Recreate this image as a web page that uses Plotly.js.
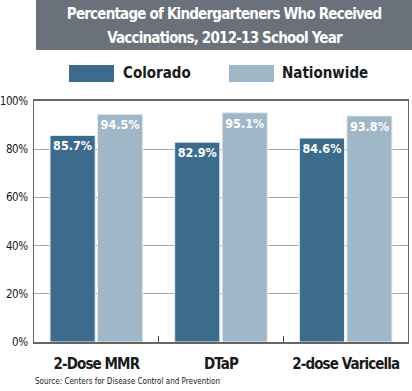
<!DOCTYPE html>
<html>
<head>
<meta charset="utf-8">
<script src="https://cdn.plot.ly/plotly-3.0.1.min.js"></script>
<style>
html,body{margin:0;padding:0;background:#fff;}
#chart{width:412px;height:391px;}
.main-svg text{font-stretch:condensed !important;}
.annotation.title-ann text{letter-spacing:-0.8px;}
.xtick text{letter-spacing:-0.9px;}
.ytick text{letter-spacing:-0.4px;}
.textpoint text{letter-spacing:-0.7px;}
</style>
</head>
<body>
<div id="chart"></div>
<script>
const categories = ["2-Dose MMR", "DTaP", "2-dose Varicella"];
const seriesNames = ["Colorado", "Nationwide"];
const colorado = [85.7, 82.9, 84.6];
const nationwide = [94.5, 95.1, 93.8];
const yTickVals = [0, 20, 40, 60, 80, 100];
const yTickText = ["0%", "20%", "40%", "60%", "80%", "100%"];
const titleLines = ["Percentage of Kindergarteners Who Received", "Vaccinations, 2012-13 School Year"];
const sourceText = "Source: Centers for Disease Control and Prevention";

const FONT = "'DejaVu Sans Condensed', 'Liberation Sans Narrow', 'DejaVu Sans', sans-serif";
const colors = ["#3c6b8b", "#a0b7c7"];

const W = 412, H = 391;
const M = {l: 34, r: 4, t: 101, b: 49};
const PW = W - M.l - M.r, PH = H - M.t - M.b;
const px = x => (x - M.l) / PW;
const py = y => (H - M.b - y) / PH;

function mk(vals, i) {
  return {
    type: "bar",
    name: seriesNames[i],
    x: categories,
    y: vals,
    text: vals.map(v => v.toFixed(1) + "%"),
    textposition: "inside",
    insidetextanchor: "end",
    textangle: 0,
    textfont: {family: FONT, size: 16, color: "#ffffff", weight: "bold"},
    marker: {color: colors[i], line: {color: "#e4ecf1", width: 1}},
    cliponaxis: false,
    showlegend: false,
    hoverinfo: "skip"
  };
}

const data = [mk(colorado, 0), mk(nationwide, 1)];

const shapes = [
  {type: "rect", xref: "paper", yref: "paper", x0: px(36), x1: px(413), y0: py(50), y1: py(0),
   fillcolor: "#6b717a", line: {width: 0}, layer: "below"},
  {type: "rect", xref: "paper", yref: "paper", x0: px(69), x1: px(114), y0: py(82), y1: py(65),
   fillcolor: colors[0], line: {width: 0}},
  {type: "rect", xref: "paper", yref: "paper", x0: px(229), x1: px(274), y0: py(82), y1: py(65),
   fillcolor: colors[1], line: {width: 0}}
];

const annotations = [
  {xref: "paper", yref: "paper", x: px(224), y: py(14), text: "<b>" + titleLines[0] + "</b>",
   showarrow: false, font: {family: FONT, size: 15, color: "#ffffff"}, xanchor: "center", yanchor: "middle"},
  {xref: "paper", yref: "paper", x: px(224), y: py(38), text: "<b>" + titleLines[1] + "</b>",
   showarrow: false, font: {family: FONT, size: 15, color: "#ffffff"}, xanchor: "center", yanchor: "middle"},
  {xref: "paper", yref: "paper", x: px(121), y: py(73), text: "<b>" + seriesNames[0] + "</b>",
   showarrow: false, font: {family: FONT, size: 15, color: "#1a1a1a"}, xanchor: "left", yanchor: "middle"},
  {xref: "paper", yref: "paper", x: px(280), y: py(73), text: "<b>" + seriesNames[1] + "</b>",
   showarrow: false, font: {family: FONT, size: 15, color: "#1a1a1a"}, xanchor: "left", yanchor: "middle"},
  {xref: "paper", yref: "paper", x: px(33), y: py(381), text: sourceText,
   showarrow: false, font: {family: FONT, size: 8, color: "#1a1a1a"}, xanchor: "left", yanchor: "middle"}
];

const layout = {
  width: W, height: H,
  margin: M,
  paper_bgcolor: "#ffffff",
  plot_bgcolor: "#ffffff",
  barmode: "group",
  bargap: 0.238,
  bargroupgap: 0.05,
  showlegend: false,
  font: {family: FONT, color: "#1a1a1a"},
  xaxis: {
    type: "category",
    range: [-0.5, 2.5],
    showline: true, linecolor: "#666666", linewidth: 2, mirror: true,
    ticks: "inside", tickson: "boundaries", ticklen: 6, tickcolor: "#444444", tickwidth: 1,
    showgrid: false,
    tickangle: 0,
    tickfont: {family: FONT, size: 15, color: "#1a1a1a", weight: "bold"},
    ticklabelstandoff: 7,
    fixedrange: true
  },
  yaxis: {
    range: [0, 100],
    tickvals: yTickVals,
    ticktext: yTickText,
    showline: true, linecolor: "#666666", linewidth: 1, mirror: true,
    showgrid: true, gridcolor: "#a8a8a8", gridwidth: 1,
    zeroline: false,
    ticks: "",
    tickfont: {family: FONT, size: 11.5, color: "#1a1a1a"},
    ticklabelstandoff: 3,
    fixedrange: true
  },
  shapes: shapes,
  annotations: annotations
};

Plotly.newPlot("chart", data, layout, {displayModeBar: false, staticPlot: true}).then(function (gd) {
  const anns = gd.querySelectorAll(".annotation");
  if (anns[0]) anns[0].classList.add("title-ann");
  if (anns[1]) anns[1].classList.add("title-ann");
});
</script>
</body>
</html>
